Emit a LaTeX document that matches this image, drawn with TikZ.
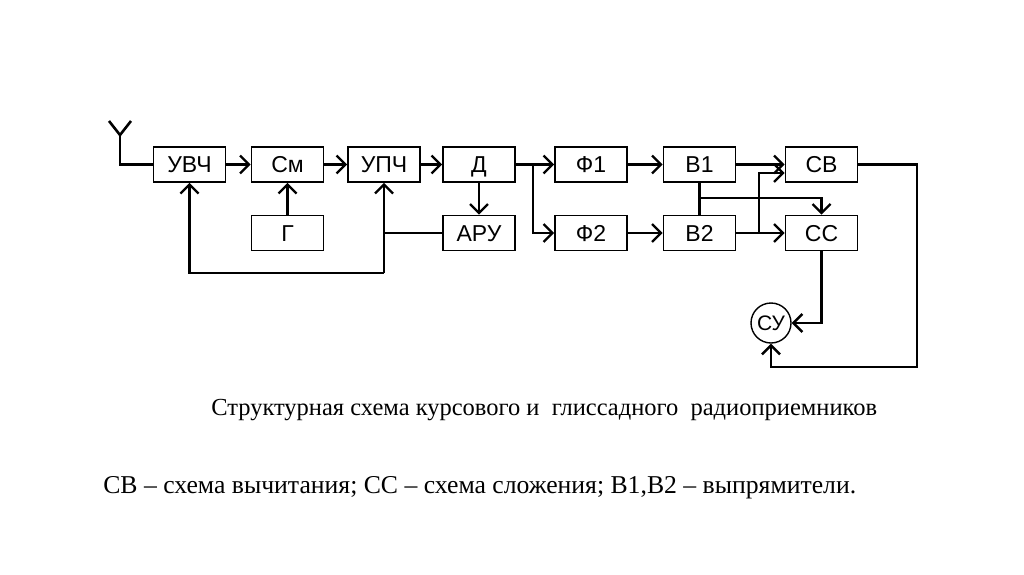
\documentclass[tikz,border=0pt]{standalone}
\usepackage{fontspec}
\setmainfont{Liberation Serif}
\newfontfamily\boxfont{Liberation Sans}
\usetikzlibrary{arrows.meta}
\begin{document}
\begin{tikzpicture}[x=1pt,y=-1pt,
  line width=2.6pt,
  blk/.style={draw, line width=1.6pt, minimum width=72pt, minimum height=35pt, inner sep=0pt, text height=16.5pt, text depth=0pt, font=\boxfont\fontsize{23}{26}\selectfont},
  circ/.style={draw, circle, line width=1.4pt, minimum size=40pt, inner sep=0pt, text height=15pt, text depth=0pt, font=\boxfont\fontsize{21}{24}\selectfont},
  arr/.style={-{Straight Barb[length=9pt,width=18pt,line width=2.4pt]}}]
\useasboundingbox (0,0) rectangle (1024,574);
\node[blk] (uvch) at (189.5,164.5) {УВЧ};
\node[blk] (sm) at (287.5,164.5) {См};
\node[blk] (upch) at (384,164.5) {УПЧ};
\node[blk] (d) at (479,164.5) {Д};
\node[blk] (g) at (287.5,233) {Г};
\node[blk] (aru) at (479,233) {АРУ};
\node[blk] (f1) at (591,164.5) {Ф1};
\node[blk] (f2) at (591,233) {Ф2};
\node[blk] (b1) at (699.5,164.5) {В1};
\node[blk] (b2) at (699.5,233) {В2};
\node[blk] (sv) at (821.5,164.5) {СВ};
\node[blk] (ss) at (821.5,233) {СС};
\node[circ] (su) at (771,323) {СУ};
% antenna
\coordinate (ant) at (120,135);
\coordinate (at1) at (109,121);
\coordinate (at2) at (131,121);
\draw (at1) -- (ant) -- (at2);
\draw (ant) |- (uvch.west);
% main chain
\draw[arr] (uvch.east) -- (sm.west);
\draw[arr] (sm.east) -- (upch.west);
\draw[arr] (upch.east) -- (d.west);
\draw[arr] (g.north) -- (sm.south);
\draw[arr] (d.south) -- (aru.north);
% AGC feedback
\coordinate (fb) at (384,273);
\coordinate (jn) at (384,233);
\draw (aru.west) -- (jn);
\draw[arr] (fb) -- (upch.south);
\draw[arr] (fb) -| (uvch.south);
% split to filters
\coordinate (split) at (533,164.5);
\draw[arr] (d.east) -- (f1.west);
\draw[arr] (split) |- (f2.west);
\draw[arr] (f1.east) -- (b1.west);
\draw[arr] (f2.east) -- (b2.west);
% rectifiers to SV / SS
\draw[arr] (b1.east) -- (sv.west);
\draw[arr] (b2.east) -- (ss.west);
\coordinate (br2) at (759,233);
\coordinate (br2t) at (759,173);
\draw[arr] (br2) -- (br2t) -- (br2t -| sv.west);
\draw (b1.south) -- (b2.north);
\coordinate (br1) at (699.5,198);
\draw[arr] (br1) -| (ss.north);
% to SU
\draw[arr] (ss.south) |- (su.east);
\coordinate (rt) at (917,164.5);
\coordinate (rb) at (917,367);
\draw[arr] (sv.east) -- (rt) -- (rb) -| (su.south);
% texts
\node[font=\fontsize{24.5}{28}\selectfont, inner sep=0pt, anchor=base west] (cap) at (210,415) {Структурная схема курсового и\ \ глиссадного\ \ радиоприемников};
\node[font=\fontsize{25.7}{30}\selectfont, inner sep=0pt, anchor=base west] (leg) at (102,493) {СВ – схема вычитания; СС – схема сложения; В1,В2 – выпрямители.};
\end{tikzpicture}
\end{document}
